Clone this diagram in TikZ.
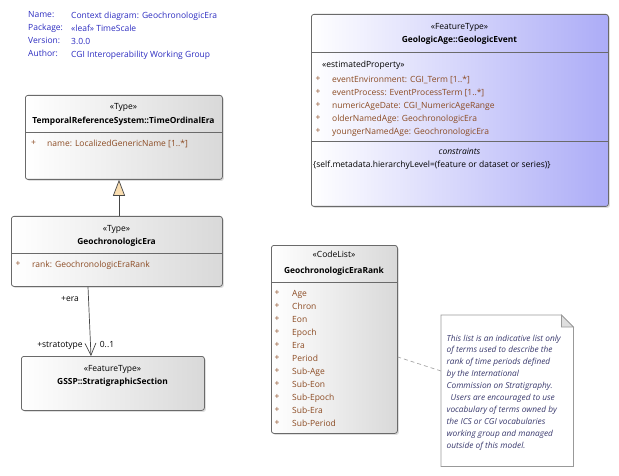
\documentclass[tikz,border=0pt]{standalone}
\usepackage{fontspec}
\setmainfont{Open Sans}
\usetikzlibrary{arrows.meta,shadows}
\definecolor{attr}{HTML}{8B4A22}
\definecolor{hdr}{HTML}{2B2BC0}
\definecolor{notec}{HTML}{3A3A6E}
\definecolor{bord}{HTML}{6A6A6A}
\definecolor{tri}{HTML}{F9DDB0}
\definecolor{lav}{HTML}{ACACF7}
\begin{document}
\begin{tikzpicture}[x=1pt,y=-1pt,
  box/.style={draw=bord, line width=0.8pt, rounded corners=2.5pt, left color=white, right color=gray!30,
    drop shadow={shadow xshift=1.5pt,shadow yshift=-1.5pt,opacity=0.25}, anchor=north west, inner sep=0pt},
  lavbox/.style={box, right color=lav},
  sep/.style={draw=bord, line width=0.7pt},
  fs/.style={font=\fontsize{8.5}{13}\selectfont},
  stereo/.style={fs, anchor=mid, inner sep=0pt},
  cname/.style={font=\fontsize{8.4}{13}\selectfont\bfseries, anchor=mid, inner sep=0pt},
  attrtxt/.style={font=\fontsize{8.5}{13}\selectfont, text=attr, anchor=north west, inner sep=0pt, align=left},
  hdrtxt/.style={font=\fontsize{8.5}{13}\selectfont, text=hdr, anchor=north west, inner sep=0pt, align=left},
  notetxt/.style={font=\fontsize{8.3}{11.9}\selectfont\itshape, text=notec, anchor=north west, inner sep=0pt, align=left},
  conn/.style={draw=gray!55!black, line width=0.7pt},
  lbl/.style={font=\fontsize{8.5}{13}\selectfont, inner sep=0pt, anchor=mid}
]
\useasboundingbox (0,0) rectangle (619,476);

% header
\node[hdrtxt] (hl) at (28,11.5) {Name:\\Package:\\Version:\\Author:};
\node[hdrtxt] (hv) at (71,11.5) {Context diagram: GeochronologicEra\\«leaf» TimeScale\\3.0.0\\CGI Interoperability Working Group};

% GeologicEvent
\node[lavbox, minimum width=297pt, minimum height=192pt] (ge) at (311,14) {};
\draw[sep] (311,52) -- (608,52);
\draw[sep] (311,141) -- (608,141);
\node[stereo] (ges) at (459.5,27) {«FeatureType»};
\node[cname] (gen) at (459.5,40) {GeologicAge::GeologicEvent};
\node[fs, anchor=mid west, inner sep=0pt] (gep) at (322,65) {«estimatedProperty»};
\node[attrtxt] (gepl) at (315.5,76) {+\\+\\+\\+\\+};
\node[attrtxt] (geat) at (332,76) {eventEnvironment: CGI\_Term [1..*]\\eventProcess: EventProcessTerm [1..*]\\numericAgeDate: CGI\_NumericAgeRange\\olderNamedAge: GeochronologicEra\\youngerNamedAge: GeochronologicEra};
\node[font=\fontsize{8.5}{13}\selectfont\itshape, anchor=mid, inner sep=0pt] (gec) at (459.5,152) {constraints};
\node[fs, anchor=mid west, inner sep=0pt] (gect) at (313,165) {\{self.metadata.hierarchyLevel=(feature or dataset or series)\}};

% TimeOrdinalEra
\node[box, minimum width=197pt, minimum height=84pt] (toe) at (25,95) {};
\draw[sep] (25,132) -- (222,132);
\node[stereo] (toes) at (123.5,107) {«Type»};
\node[cname] (toen) at (123.5,121) {TemporalReferenceSystem::TimeOrdinalEra};
\node[attrtxt] (toep) at (31,140) {+};
\node[attrtxt] (toea) at (47,140) {name: LocalizedGenericName [1..*]};

% GeochronologicEra
\node[box, minimum width=211pt, minimum height=70pt] (gera) at (11,216) {};
\draw[sep] (11,253) -- (222,253);
\node[stereo] (geras) at (116.5,229) {«Type»};
\node[cname] (geran) at (116.5,242) {GeochronologicEra};
\node[attrtxt] (gerap) at (15.5,261) {+};
\node[attrtxt] (geraa) at (32,261) {rank: GeochronologicEraRank};

% StratigraphicSection
\node[box, minimum width=183pt, minimum height=54pt] (ss) at (21,356) {};
\node[stereo] (sss) at (112.5,369) {«FeatureType»};
\node[cname] (ssn) at (112.5,382) {GSSP::StratigraphicSection};

% CodeList
\node[box, minimum width=126pt, minimum height=188pt] (cl) at (271,245) {};
\draw[sep] (271,282) -- (397,282);
\node[stereo] (cls) at (334,255) {«CodeList»};
\node[cname] (cln) at (334,271) {GeochronologicEraRank};
\node[attrtxt] (clp) at (274.5,290) {+\\+\\+\\+\\+\\+\\+\\+\\+\\+\\+};
\node[attrtxt] (cla) at (292,290) {Age\\Chron\\Eon\\Epoch\\Era\\Period\\Sub-Age\\Sub-Eon\\Sub-Epoch\\Sub-Era\\Sub-Period};

% Note
\node[anchor=north west, inner sep=0pt, minimum width=132pt, minimum height=151pt] (note) at (441,315) {};
\draw[draw=gray!80, line width=0.7pt, fill=white]
  (note.north west) -- ([xshift=-12pt]note.north east) -- ([yshift=-12pt]note.north east) -- (note.south east) -- (note.south west) -- cycle;
\draw[draw=gray!80, line width=0.7pt, fill=gray!25]
  ([xshift=-12pt]note.north east) -- ([xshift=-12pt,yshift=-12pt]note.north east) -- ([yshift=-12pt]note.north east) -- cycle;
\node[notetxt] (nt) at (446.5,334.5) {This list is an indicative list only\\of terms used to describe the\\rank of time periods defined\\by the International\\Commission on Stratigraphy.\\\hspace*{4pt}Users are encouraged to use\\vocabulary of terms owned by\\the ICS or CGI vocabularies\\working group and managed\\outside of this model.};

% connectors
\coordinate (gx) at (119,0);
\coordinate (ax1) at (88,0);
\coordinate (ax2) at (91,0);
\coordinate (ny1) at (0,371);
\coordinate (ny2) at (0,357);
\draw[conn, -{Triangle[open, fill=tri, length=16pt, width=12pt]}] (gera.north -| gx) -- (toe.south -| gx);
\draw[conn, -{Straight Barb[length=12pt, width=11pt, line width=0.7pt]}] (gera.south -| ax1) -- (ss.north -| ax2);
\draw[draw=gray!70, line width=0.7pt, dash pattern=on 4pt off 3pt] (note.west |- ny1) -- (cl.east |- ny2);

\node[lbl] (l1) at (70,299) {+era};
\node[lbl] (l2) at (60,345) {+stratotype};
\node[lbl] (l3) at (107,345) {0..1};
\end{tikzpicture}
\end{document}
